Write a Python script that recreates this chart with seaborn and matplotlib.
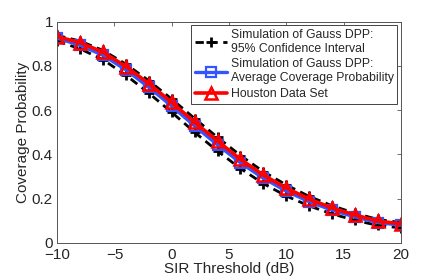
import numpy as np
import pandas as pd
import matplotlib
matplotlib.use("Agg")
import matplotlib.pyplot as plt
import seaborn as sns

sir_db = [-10, -8, -6, -4, -2, 0, 2, 4, 6, 8, 10, 12, 14, 16, 18, 20]
houston = [0.932, 0.905, 0.862, 0.797, 0.720, 0.635, 0.545, 0.460, 0.378, 0.306, 0.248, 0.198, 0.158, 0.126, 0.099, 0.086]
sim_avg = [0.925, 0.893, 0.848, 0.782, 0.703, 0.618, 0.528, 0.443, 0.362, 0.292, 0.234, 0.186, 0.148, 0.117, 0.092, 0.080]
ci_upper = [0.938, 0.912, 0.870, 0.808, 0.733, 0.650, 0.562, 0.477, 0.395, 0.322, 0.262, 0.210, 0.168, 0.134, 0.106, 0.092]
ci_lower = [0.912, 0.877, 0.828, 0.758, 0.677, 0.590, 0.500, 0.415, 0.336, 0.268, 0.212, 0.167, 0.131, 0.102, 0.079, 0.068]

sns.set_style("white")
plt.rcParams['font.family'] = ['Liberation Sans', 'DejaVu Sans']

fig = plt.figure(figsize=(4.43, 2.77), dpi=100)
ax = fig.add_axes([0.129, 0.123, 0.776, 0.799])

df = pd.DataFrame({"x": sir_db, "up": ci_upper, "lo": ci_lower, "avg": sim_avg, "h": houston})

ci_kw = dict(color="black", linestyle=(0, (3, 2)), marker="+", markersize=7,
             markeredgewidth=2, markeredgecolor="black", linewidth=2)
sns.lineplot(data=df, x="x", y="up", ax=ax, label="Simulation of Gauss DPP:\n95% Confidence Interval", **ci_kw)
sns.lineplot(data=df, x="x", y="lo", ax=ax, label="_nolegend_", **ci_kw)
sns.lineplot(data=df, x="x", y="avg", ax=ax, color="#3355ff", linestyle="-", marker="s",
             markersize=6.5, markerfacecolor="none", markeredgecolor="#3355ff", markeredgewidth=1.6,
             linewidth=2.4, label="Simulation of Gauss DPP:\nAverage Coverage Probability")
sns.lineplot(data=df, x="x", y="h", ax=ax, color="red", linestyle="-", marker="^",
             markersize=9, markerfacecolor="none", markeredgecolor="red", markeredgewidth=1.8,
             linewidth=2.6, label="Houston Data Set")

ax.set_xlim(-10, 20)
ax.set_ylim(0, 1)
ax.set_xticks([-10, -5, 0, 5, 10, 15, 20])
ax.set_yticks([0, 0.2, 0.4, 0.6, 0.8, 1])
ax.set_yticklabels(["0", "0.2", "0.4", "0.6", "0.8", "1"])
ax.set_xticklabels(["\u221210", "\u22125", "0", "5", "10", "15", "20"])
ax.set_xlabel("SIR Threshold (dB)", fontsize=11, labelpad=0)
ax.set_ylabel("Coverage Probability", fontsize=11, labelpad=1)
ax.tick_params(direction="in", length=3, width=0.6, top=True, right=True, labelsize=11, color="#555555")
ax.tick_params(axis="x", pad=3.5)
ax.tick_params(axis="y", pad=3)
for s in ax.spines.values():
    s.set_linewidth(0.7)
    s.set_color("#555555")

leg = ax.legend(loc="upper right", fontsize=8.8, frameon=True, fancybox=False, framealpha=1,
                edgecolor="#444444", handlelength=2.6, borderpad=0.3, labelspacing=0.3,
                handletextpad=0.3, borderaxespad=0.3)
leg.get_frame().set_linewidth(0.7)

fig.savefig("out.png", dpi=100)
